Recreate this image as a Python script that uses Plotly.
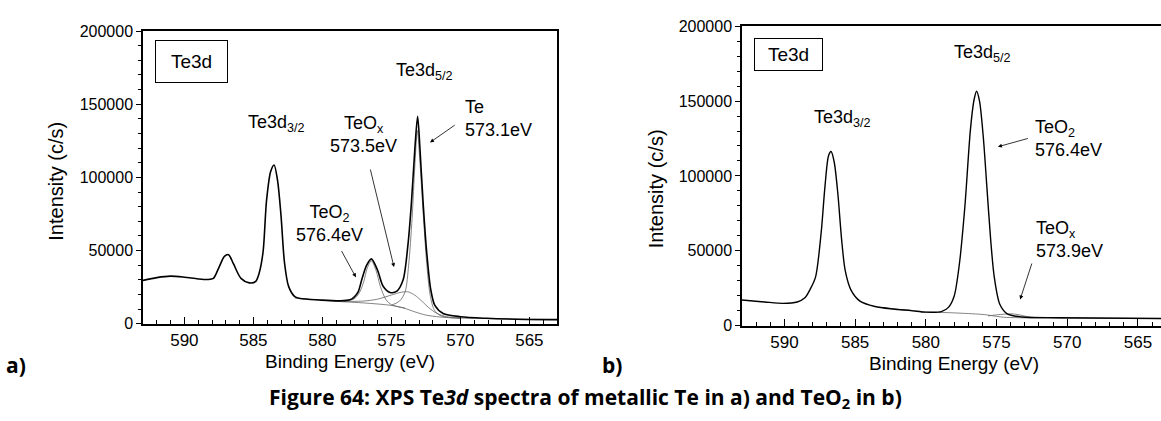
import plotly.graph_objects as go

W, H = 1161, 421

# ---- panel a) metallic Te : envelope and fitted components (read off the figure)
a_env_e = [593.0, 592.0, 591.0, 590.0, 589.0, 588.3, 587.9, 587.5, 587.1, 586.8, 586.45,
           585.9, 585.3, 584.85, 584.6, 584.3, 584.05, 583.75, 583.5, 583.25, 583.0,
           582.75, 582.45, 582.0, 581.6, 580.2, 578.7, 578.0, 577.7, 577.4, 577.15,
           576.8, 576.45, 576.0, 575.6, 575.1, 574.6, 574.15, 573.8, 573.55, 573.3,
           573.1, 572.93, 572.7, 572.45, 572.15, 571.85, 571.25, 570.0, 568.1, 566.0, 563.0]
a_env_i = [29600, 31500, 32500, 31800, 30600, 30200, 31000, 38400, 46000, 47200, 41000,
           31000, 27900, 28700, 34000, 49000, 84000, 104000, 108500, 98000, 74000,
           42000, 25500, 18500, 17200, 16200, 15600, 16300, 18200, 22000, 30000,
           39800, 44300, 36500, 25600, 21400, 22300, 30000, 54000, 82400, 119500,
           141800, 119500, 82400, 49600, 23400, 12500, 7000, 4800, 3700, 3100, 2800]

a_bg_e = [582.0, 580.0, 578.7, 577.0, 575.0, 574.1, 573.3, 572.5, 571.5, 570.5, 568.0, 563.0]
a_bg_i = [17500, 16000, 15100, 14200, 12500, 10700, 8100, 5900, 4600, 4000, 3500, 2800]

a_teo2_e = [578.5, 577.7, 577.3, 577.0, 576.75, 576.45, 576.1, 575.8, 575.4, 575.0, 574.6, 574.0]
a_teo2_i = [15300, 17000, 21500, 29000, 38000, 43000, 36000, 25500, 16500, 13000, 11800, 10600]

a_teox_e = [578.5, 577.0, 576.0, 575.0, 574.3, 573.8, 573.3, 572.8, 572.3, 571.7, 571.0, 570.0]
a_teox_i = [15200, 15500, 16800, 19600, 21500, 21800, 19500, 15500, 11000, 7000, 4800, 3900]

a_te_e = [575.0, 574.4, 574.0, 573.75, 573.5, 573.3, 573.12, 572.93, 572.7, 572.45,
          572.2, 571.9, 571.5, 571.0, 570.0]
a_te_i = [12600, 15500, 22000, 40000, 72000, 108000, 132000, 110000, 76000, 42000,
          20000, 9500, 5800, 4400, 3700]

# ---- panel b) TeO2
b_env_e = [593.0, 591.4, 590.1, 589.1, 588.55, 588.2, 587.8, 587.4, 587.14, 586.88, 586.7,
           586.48, 586.22, 585.96, 585.7, 585.3, 584.66, 583.6, 582.3, 581.0, 580.0,
           578.9, 578.4, 578.0, 577.63, 577.24, 576.85, 576.59, 576.41, 576.2, 575.94,
           575.68, 575.42, 575.16, 574.77, 574.24, 573.2, 570.6, 563.0]
b_env_i = [17100, 15800, 14900, 15800, 18600, 23900, 32400, 62300, 92200, 113500, 116300,
           109300, 87900, 58000, 36700, 23900, 16400, 12800, 11100, 10000, 9000,
           9400, 12200, 19600, 41000, 79400, 130600, 150900, 156600, 149800, 126300,
           92200, 58000, 32400, 14300, 7900, 5800, 5300, 4700]

b_bg_e = [583.0, 580.0, 578.5, 577.5, 576.5, 575.8, 575.0, 574.5, 573.5, 572.0, 568.0, 563.0]
b_bg_i = [12000, 9000, 8700, 8300, 7800, 7300, 6200, 5600, 5300, 5100, 4900, 4700]

b_teox_e = [575.6, 575.0, 574.4, 573.9, 573.4, 572.8, 572.2]
b_teox_i = [6500, 7200, 7700, 7900, 7200, 6000, 5300]

x_range_a = [593, 563]
x_range_b = [593, 563.37]
y_range = [0, 200000]

FONT = "Liberation Sans, Arial, sans-serif"
CAP = "Open Sans, Lato, sans-serif"
GREY = "rgb(100,100,100)"


def px_x(p):
    return p / W


def px_y(p):
    return 1 - p / H


fig = go.Figure()

# panel a traces
for xs, ys in [(a_bg_e, a_bg_i), (a_teo2_e, a_teo2_i), (a_teox_e, a_teox_i), (a_te_e, a_te_i)]:
    fig.add_trace(go.Scatter(x=xs, y=ys, mode="lines", xaxis="x", yaxis="y",
                             line=dict(color=GREY, width=0.8, shape="spline", smoothing=0.8)))
fig.add_trace(go.Scatter(x=a_env_e, y=a_env_i, mode="lines", xaxis="x", yaxis="y",
                         line=dict(color="black", width=1.6, shape="spline", smoothing=0.8)))

# panel b traces
for xs, ys in [(b_bg_e, b_bg_i), (b_teox_e, b_teox_i)]:
    fig.add_trace(go.Scatter(x=xs, y=ys, mode="lines", xaxis="x2", yaxis="y2",
                             line=dict(color=GREY, width=0.8, shape="spline", smoothing=0.8)))
fig.add_trace(go.Scatter(x=b_env_e, y=b_env_i, mode="lines", xaxis="x2", yaxis="y2",
                         line=dict(color="black", width=1.4, shape="spline", smoothing=0.8)))


def xaxis(dom, rng, anchor):
    return dict(domain=dom, range=rng, anchor=anchor, dtick=5, tick0=565,
                ticks="inside", ticklen=7, tickwidth=1, tickcolor="black",
                minor=dict(dtick=1, ticks="inside", ticklen=4, tickcolor="black"),
                showline=True, linecolor="black", linewidth=1.5, mirror=True,
                showgrid=False, zeroline=False,
                tickfont=dict(family=FONT, size=17, color="black"))


def yaxis(dom, anchor, mirror=True):
    return dict(domain=dom, range=y_range, anchor=anchor, dtick=50000, tickformat="d",
                ticks="outside", ticklen=5, tickwidth=1, tickcolor="black",
                minor=dict(dtick=10000, ticks="outside", ticklen=3, tickcolor="black"),
                showline=True, linecolor="black", linewidth=1.5, mirror=mirror,
                showgrid=False, zeroline=False,
                tickfont=dict(family=FONT, size=16, color="black"))


ann = []


def label(x, y, text, ref, size=18, xanchor="center", align="center", family=FONT):
    ann.append(dict(x=x, y=y, xref=ref[0], yref=ref[1], text=text, showarrow=False,
                    xanchor=xanchor, yanchor="middle", align=align,
                    font=dict(family=family, size=size, color="black")))


def arrow(tail, head, ref):
    ann.append(dict(x=head[0], y=head[1], ax=tail[0], ay=tail[1], xref=ref[0], yref=ref[1],
                    axref=ref[0], ayref=ref[1], text="", showarrow=True,
                    arrowhead=2, arrowsize=1, arrowwidth=0.8, arrowcolor="black"))


def box(x, y, ref, w, h):
    ann.append(dict(x=x, y=y, xref=ref[0], yref=ref[1], text="Te3d", showarrow=False,
                    width=w, height=h, borderwidth=1, bordercolor="black", borderpad=0,
                    font=dict(family=FONT, size=19, color="black")))


A = ("x", "y")
B = ("x2", "y2")

box(589.5, 179500, A, 71, 41)
label(583.3, 137000, "Te3d<sub>3/2</sub>", A)
label(572.6, 172500, "Te3d<sub>5/2</sub>", A)
label(569.8, 140500, "Te<br>573.1eV", A, xanchor="left", align="left")
arrow((570.3, 136400), (572.2, 123900), A)
label(577.0, 129000, "TeO<sub>x</sub><br>573.5eV", A)
arrow((576.55, 106400), (574.81, 38700), A)
label(579.5, 68500, "TeO<sub>2</sub><br>576.4eV", A)
arrow((578.67, 50700), (577.57, 31700), A)

box(589.7, 181000, B, 67, 31)
label(585.9, 138500, "Te3d<sub>3/2</sub>", B)
label(576.0, 181500, "Te3d<sub>5/2</sub>", B)
label(572.45, 125000, "TeO<sub>2</sub><br>576.4eV", B, xanchor="left", align="left")
arrow((572.68, 125300), (574.9, 119500), B)
label(572.35, 57500, "TeO<sub>x</sub><br>573.9eV", B, xanchor="left", align="left")
arrow((572.47, 42500), (573.33, 17500), B)

P = ("paper", "paper")
label(px_x(350), px_y(368), "Binding Energy (eV)", P, size=19)
label(px_x(954), px_y(370), "Binding Energy (eV)", P, size=19)
ann.append(dict(x=px_x(43), y=px_y(181), xref="paper", yref="paper", text="Intensity (c/s)",
                showarrow=False, textangle=-90, font=dict(family=FONT, size=20, color="black")))
ann.append(dict(x=px_x(656), y=px_y(189), xref="paper", yref="paper", text="Intensity (c/s)",
                showarrow=False, textangle=-90, font=dict(family=FONT, size=20, color="black")))

label(px_x(16), px_y(372), "<b>a)</b>", P, size=21, family=CAP)
label(px_x(612), px_y(372), "<b>b)</b>", P, size=21, family=CAP)
label(px_x(585), px_y(406),
      "<b>Figure 64: XPS Te<i>3d</i> spectra of metallic Te in a) and TeO<sub>2</sub> in b)</b>",
      P, size=21, family=CAP)

fig.update_layout(
    width=W, height=H,
    margin=dict(l=0, r=0, t=0, b=0),
    paper_bgcolor="white", plot_bgcolor="white",
    showlegend=False,
    xaxis=xaxis([px_x(143), px_x(557)], x_range_a, "y"),
    yaxis=yaxis([px_y(329), px_y(24)], "x"),
    xaxis2=xaxis([px_x(742), 1.0], x_range_b, "y2"),
    yaxis2=yaxis([px_y(331), px_y(19)], "x2", mirror=False),
    annotations=ann,
)

# the page's default 8px body margin would push the figure off the window
fig.write_html("out.html", config={"displayModeBar": False},
               post_script="document.body.style.margin = '0px';")
